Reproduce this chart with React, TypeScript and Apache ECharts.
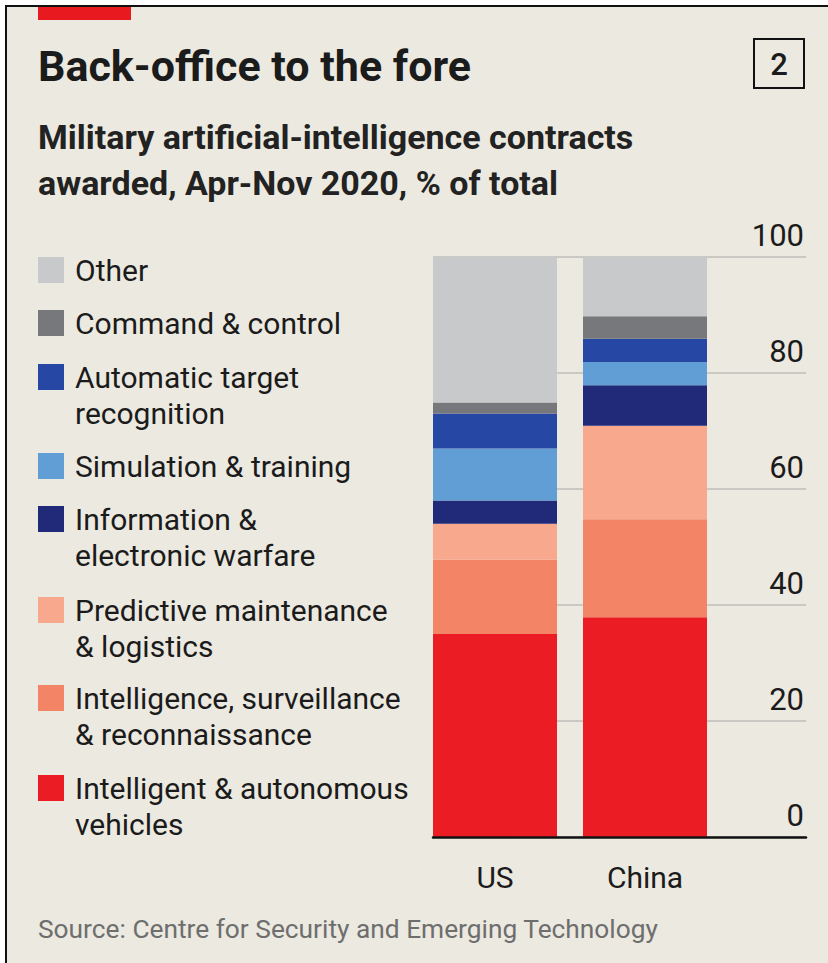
import React, { useEffect, useRef } from "react";
import * as echarts from "echarts";

const categories = ["US", "China"];
const seriesNames = [
  "Intelligent & autonomous vehicles",
  "Intelligence, surveillance & reconnaissance",
  "Predictive maintenance & logistics",
  "Information & electronic warfare",
  "Simulation & training",
  "Automatic target recognition",
  "Command & control",
  "Other",
];
const legendLabels = [
  "Intelligent & autonomous\nvehicles",
  "Intelligence, surveillance\n& reconnaissance",
  "Predictive maintenance\n& logistics",
  "Information &\nelectronic warfare",
  "Simulation & training",
  "Automatic target\nrecognition",
  "Command & control",
  "Other",
];
const usValues = [35.0, 12.8, 6.2, 4.0, 9.0, 6.0, 1.9, 25.1];
const chinaValues = [37.9, 16.9, 16.1, 7.0, 4.0, 4.0, 3.9, 10.2];
const colors = ["#EC1C24", "#F48466", "#F8A88D", "#202A78", "#629ED6", "#2648A4", "#77787B", "#C8C9CB"];
const yTicks = { min: 0, max: 100, interval: 20 };

const FONT = "Roboto";
const TEXT = "#1b1b1b";

// top position of each legend square (px), in series order
const legendSquareTop = [775, 685, 597, 506, 453, 364, 310, 257];

export default function App() {
  const ref = useRef<HTMLDivElement>(null);
  useEffect(() => {
    document.body.style.margin = "0";
    if (!ref.current) return;
    const chart = echarts.init(ref.current, null, { renderer: "svg" });

    const legends = seriesNames.map((name, i) => {
      const twoLine = legendLabels[i].includes("\n");
      return {
        show: true,
        left: 38,
        top: legendSquareTop[i] - (twoLine ? 41 : 5),
        orient: "vertical",
        padding: 0,
        itemWidth: 26,
        itemHeight: 26,
        icon: "rect",
        selectedMode: false,
        data: [name],
        // a blank first line keeps the square level with the first text line
        formatter: () => (twoLine ? " \n" + legendLabels[i] : legendLabels[i]),
        textStyle: {
          fontFamily: FONT,
          fontSize: 30,
          lineHeight: 36,
          color: TEXT,
          padding: [0, 0, 0, 6],
        },
      };
    });

    const option: any = {
      animation: false,
      backgroundColor: "#EBE9E0",
      textStyle: { fontFamily: FONT },
      legend: legends,
      grid: [
        { left: 433, right: 22, top: 257, bottom: 126 },
        { left: 420, width: 300, top: 257, bottom: 126 },
      ],
      xAxis: [
        {
          gridIndex: 0,
          type: "value",
          min: 0,
          max: 1,
          z: 5,
          axisLine: { show: true, onZero: false, lineStyle: { color: "#111", width: 2.5 } },
          axisTick: { show: false },
          axisLabel: { show: false },
          splitLine: { show: false },
        },
        {
          gridIndex: 1,
          type: "category",
          data: categories,
          axisLine: { show: false },
          axisTick: { show: false },
          axisLabel: { fontFamily: FONT, fontSize: 30, color: TEXT, margin: 25 },
        },
      ],
      yAxis: [
        {
          gridIndex: 0,
          type: "value",
          min: yTicks.min,
          max: yTicks.max,
          interval: yTicks.interval,
          position: "right",
          axisLine: { show: false },
          axisTick: { show: false },
          splitLine: { show: true, lineStyle: { color: "#C9C8C2", width: 2 } },
          axisLabel: {
            inside: true,
            margin: 2,
            fontFamily: FONT,
            fontSize: 31,
            color: TEXT,
            verticalAlign: "bottom",
            lineHeight: 30,
            padding: [0, 0, 7, 0],
          },
        },
        {
          gridIndex: 1,
          type: "value",
          min: yTicks.min,
          max: yTicks.max,
          show: false,
        },
      ],
      series: seriesNames.map((name, i) => ({
        name,
        type: "bar",
        stack: "total",
        xAxisIndex: 1,
        yAxisIndex: 1,
        barWidth: 124,
        itemStyle: { color: colors[i] },
        data: [usValues[i], chinaValues[i]],
      })),
      graphic: [
        { type: "rect", shape: { x: 0, y: 0, width: 828, height: 5 }, style: { fill: "#fff" } },
        { type: "rect", shape: { x: 0, y: 0, width: 5, height: 963 }, style: { fill: "#fff" } },
        { type: "line", shape: { x1: 5, y1: 6, x2: 828, y2: 6 }, style: { stroke: "#111", lineWidth: 2 } },
        { type: "line", shape: { x1: 6, y1: 5, x2: 6, y2: 963 }, style: { stroke: "#111", lineWidth: 2 } },
        { type: "rect", shape: { x: 38, y: 7, width: 93, height: 13 }, style: { fill: "#E8191F" } },
        {
          type: "text",
          style: {
            text: "Back-office to the fore",
            x: 38,
            y: 66,
            verticalAlign: "middle",
            fontFamily: FONT,
            fontSize: 43,
            fontWeight: "bold",
            fill: TEXT,
          },
        },
        {
          type: "text",
          style: {
            text: "Military artificial-intelligence contracts\nawarded, Apr-Nov 2020, % of total",
            x: 38,
            y: 160,
            verticalAlign: "middle",
            lineHeight: 46,
            fontFamily: FONT,
            fontSize: 34,
            fontWeight: "bold",
            fill: "#222",
          },
        },
        {
          type: "rect",
          shape: { x: 754, y: 39, width: 50, height: 49 },
          style: { fill: "none", stroke: "#111", lineWidth: 2 },
        },
        {
          type: "text",
          style: {
            text: "2",
            x: 779,
            y: 64,
            align: "center",
            verticalAlign: "middle",
            fontFamily: FONT,
            fontSize: 31,
            fontWeight: 500,
            fill: TEXT,
          },
        },
        {
          type: "text",
          style: {
            text: "Source: Centre for Security and Emerging Technology",
            x: 38,
            y: 929,
            verticalAlign: "middle",
            fontFamily: FONT,
            fontSize: 26.3,
            fill: "#6E6E6E",
          },
        },
      ],
    };
    chart.setOption(option);
    return () => chart.dispose();
  }, []);
  return <div ref={ref} style={{ width: 828, height: 963 }} />;
}
